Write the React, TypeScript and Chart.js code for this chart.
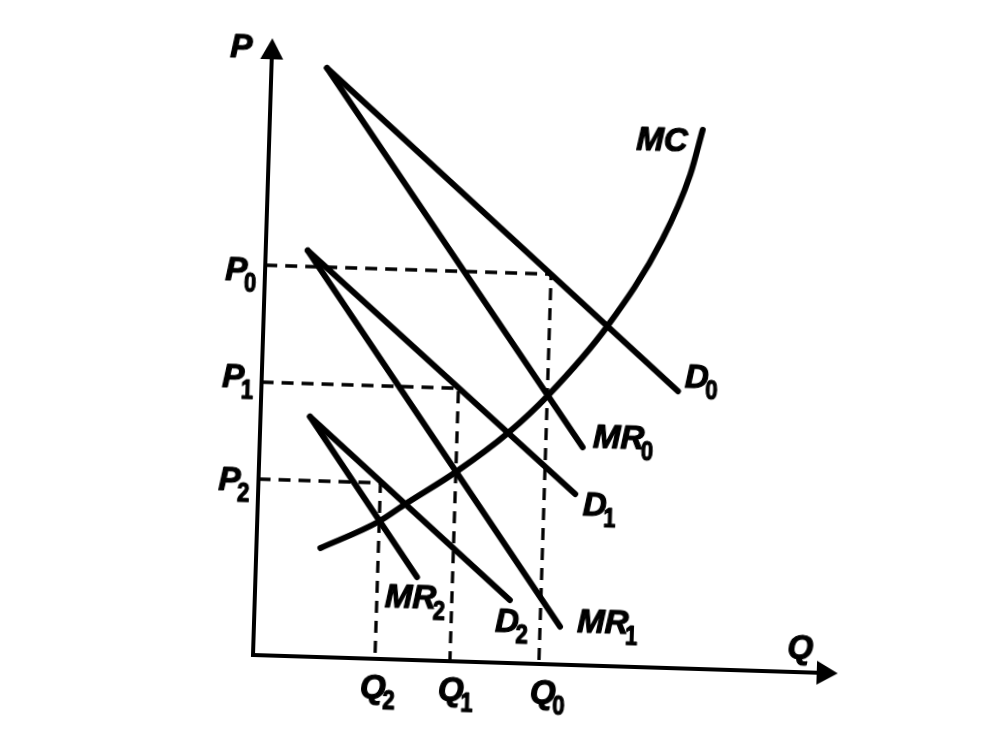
import React, { useEffect, useRef } from 'react';
import { Chart, registerables } from 'chart.js';

Chart.register(...registerables);

// Demand / marginal revenue lines (Q, P endpoints)
const D0_Q = [5.55, 41.65];
const D0_P = [58.9, 27.7];
const MR0_Q = [5.55, 32.3];
const MR0_P = [58.9, 21.8];
const D1_Q = [4.2, 31.7];
const D1_P = [40.6, 17.1];
const MR1_Q = [4.2, 30.6];
const MR1_P = [40.6, 3.8];
const D2_Q = [4.95, 25.5];
const D2_P = [24.0, 6.3];
const MR2_Q = [4.95, 16.15];
const MR2_P = [24.0, 8.3];

// Marginal cost curve
const MC_Q = [6.4, 12.1, 14.8, 19.8, 24.8, 28.7, 34.4, 39.6, 42.2, 43.3];
const MC_P = [10.9, 13.7, 15.6, 19.0, 23.0, 26.9, 34.0, 42.8, 49.4, 53.9];

// Equilibria (Q0,P0), (Q1,P1), (Q2,P2)
const EQ_Q = [28.6, 19.7, 12.2];
const EQ_P = [39.0, 27.3, 17.6];

// Axes extents
const Q_AXIS_MAX = 58.5;
const P_AXIS_MAX = 61.7;

// Text labels: main text, subscript, anchor (Q, P)
const LABEL_TEXT = ['P', 'Q', 'P', 'P', 'P', 'Q', 'Q', 'Q', 'MC', 'D', 'MR', 'D', 'MR', 'D', 'MR'];
const LABEL_SUB = ['', '', '0', '1', '2', '2', '1', '0', '', '0', '0', '1', '1', '2', '2'];
const LABEL_Q = [-4.18, 53.4, -3.98, -3.94, -4.0, 10.8, 18.6, 27.8, 36.7, 42.3, 33.3, 32.5, 32.3, 24.1, 13.0];
const LABEL_P = [59.7, 1.38, 37.4, 26.7, 16.4, -3.86, -3.9, -3.9, 51.7, 28.1, 21.8, 15.0, 3.3, 3.06, 5.2];

const X_MIN = -25.3;
const X_MAX = 74.8;
const Y_MIN = -8.2;
const Y_MAX = 65.5;

const pts = (qs: number[], ps: number[]) => qs.map((q, i) => ({ x: q, y: ps[i] }));

const diagramPlugin = {
  id: 'diagram',
  afterDatasetsDraw(chart: any) {
    const ctx = chart.ctx as CanvasRenderingContext2D;
    const xs = chart.scales.x;
    const ys = chart.scales.y;
    const px = (q: number) => xs.getPixelForValue(q);
    const py = (p: number) => ys.getPixelForValue(p);
    ctx.save();
    ctx.fillStyle = '#000';
    ctx.strokeStyle = '#000';
    // y-axis arrow
    ctx.beginPath();
    ctx.moveTo(px(0), py(P_AXIS_MAX));
    ctx.lineTo(px(-1.15), py(P_AXIS_MAX - 2.1));
    ctx.lineTo(px(1.15), py(P_AXIS_MAX - 2.1));
    ctx.closePath();
    ctx.fill();
    // x-axis arrow
    ctx.beginPath();
    ctx.moveTo(px(Q_AXIS_MAX), py(0));
    ctx.lineTo(px(Q_AXIS_MAX - 2.1), py(1.2));
    ctx.lineTo(px(Q_AXIS_MAX - 2.1), py(-1.2));
    ctx.closePath();
    ctx.fill();
    // labels
    const mainFont = 'italic bold 33px "Liberation Sans", Arial, sans-serif';
    const subFont = 'bold 27px "Liberation Sans", Arial, sans-serif';
    ctx.textBaseline = 'alphabetic';
    ctx.textAlign = 'left';
    ctx.lineWidth = 1.2;
    ctx.lineJoin = 'round';
    LABEL_TEXT.forEach((t, i) => {
      const x = px(LABEL_Q[i]);
      const y = py(LABEL_P[i]);
      ctx.font = mainFont;
      ctx.fillText(t, x, y);
      ctx.strokeText(t, x, y);
      const w = ctx.measureText(t).width;
      if (LABEL_SUB[i]) {
        ctx.save();
        ctx.font = subFont;
        ctx.translate(x + w - 3, y + 11);
        ctx.scale(0.82, 1);
        ctx.fillText(LABEL_SUB[i], 0, 0);
        ctx.strokeText(LABEL_SUB[i], 0, 0);
        ctx.restore();
      }
    });
    ctx.restore();
  },
};

export default function App() {
  const ref = useRef<HTMLCanvasElement | null>(null);

  useEffect(() => {
    if (!ref.current) return;
    const solid = (data: any[], extra: any = {}) => ({
      data,
      borderColor: '#000',
      backgroundColor: '#000',
      borderWidth: 6,
      pointRadius: 0,
      fill: false,
      tension: 0,
      borderCapStyle: 'round',
      borderJoinStyle: 'round',
      ...extra,
    });
    const dashed = EQ_Q.map((q, i) => ({
      data: [
        { x: 0, y: EQ_P[i] },
        { x: q, y: EQ_P[i] },
        { x: q, y: 0 },
      ],
      borderColor: '#000',
      borderWidth: 3.3,
      borderDash: [12, 8],
      pointRadius: 0,
      fill: false,
      tension: 0,
    }));
    const chart = new Chart(ref.current, {
      type: 'line',
      data: {
        datasets: [
          ...dashed,
          solid(
            [
              { x: 0, y: P_AXIS_MAX - 1.5 },
              { x: 0, y: 0 },
              { x: Q_AXIS_MAX - 1.5, y: 0 },
            ],
            { borderWidth: 4, borderJoinStyle: 'miter', borderCapStyle: 'butt' }
          ),
          solid(pts(D0_Q, D0_P)),
          solid(pts(MR0_Q, MR0_P)),
          solid(pts(D1_Q, D1_P)),
          solid(pts(MR1_Q, MR1_P)),
          solid(pts(D2_Q, D2_P)),
          solid(pts(MR2_Q, MR2_P)),
          solid(pts(MC_Q, MC_P), { cubicInterpolationMode: 'monotone' }),
        ] as any,
      },
      options: {
        responsive: false,
        animation: false,
        events: [],
        layout: { padding: 0 },
        parsing: false,
        normalized: true,
        scales: {
          x: { type: 'linear', min: X_MIN, max: X_MAX, display: false },
          y: { type: 'linear', min: Y_MIN, max: Y_MAX, display: false },
        },
        plugins: {
          legend: { display: false },
          tooltip: { enabled: false },
        },
      } as any,
      plugins: [diagramPlugin],
    });
    return () => chart.destroy();
  }, []);

  return (
    <div
      style={{
        position: 'fixed',
        left: 0,
        top: 0,
        width: 1001,
        height: 737,
        background: '#fff',
        overflow: 'hidden',
      }}
    >
      <canvas
        ref={ref}
        width={1001}
        height={737}
        style={{
          display: 'block',
          width: 1001,
          height: 737,
          transform: 'rotate(1.8deg)',
          transformOrigin: '253px 655px',
        }}
      />
    </div>
  );
}
